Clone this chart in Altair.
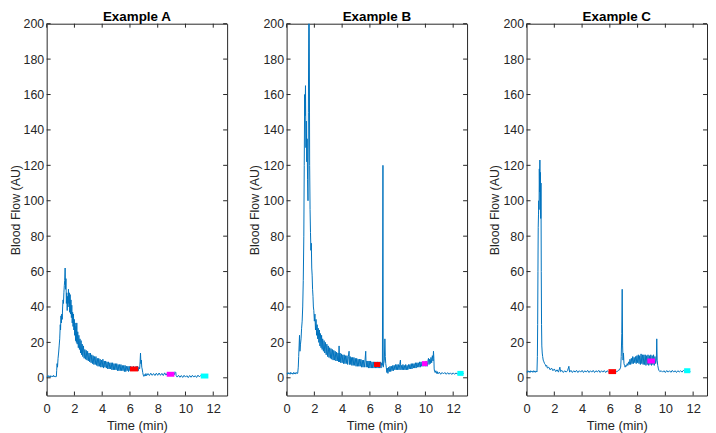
import altair as alt
import pandas as pd

X_TICKS = [0, 2, 4, 6, 8, 10, 12]
Y_TICKS = [0, 20, 40, 60, 80, 100, 120, 140, 160, 180, 200]
TITLES = ["Example A", "Example B", "Example C"]

# ---------------- Example A ----------------
t_a = [0.00, 0.05, 0.10, 0.15, 0.20, 0.25, 0.30, 0.35, 0.40, 0.45, 0.50, 0.55, 0.60, 0.65, 0.70,
       0.72, 0.75, 0.78, 0.82, 0.86, 0.90, 0.94, 0.98, 1.00, 1.03, 1.06, 1.09, 1.12, 1.15, 1.18,
       1.21, 1.24, 1.27, 1.30, 1.33, 1.36, 1.39, 1.42, 1.45, 1.48, 1.51, 1.54, 1.57, 1.60, 1.63,
       1.66, 1.69, 1.72, 1.75, 1.78, 1.81, 1.84, 1.87, 1.90, 1.93, 1.96, 1.99, 2.02, 2.05, 2.08,
       2.11, 2.14, 2.17, 2.20, 2.24, 2.28, 2.32, 2.36, 2.40, 2.44, 2.48, 2.52, 2.56, 2.60, 2.65,
       2.70, 2.75, 2.80, 2.85, 2.90, 2.95, 3.00, 3.05, 3.10, 3.15, 3.20, 3.25, 3.30, 3.35, 3.40,
       3.45, 3.50, 3.55, 3.60, 3.65, 3.70, 3.75, 3.80, 3.85, 3.90, 3.95, 4.00, 4.05, 4.10, 4.15,
       4.20, 4.25, 4.30, 4.35, 4.40, 4.45, 4.50, 4.55, 4.60, 4.65, 4.70, 4.75, 4.80, 4.85, 4.90,
       4.95, 5.00, 5.05, 5.10, 5.15, 5.20, 5.25, 5.30, 5.35, 5.40, 5.45, 5.50, 5.55, 5.60, 5.65,
       5.70, 5.75, 5.80, 5.85, 5.90, 5.95, 6.00, 6.05, 6.10, 6.15, 6.20, 6.25, 6.30, 6.35, 6.40,
       6.45, 6.50, 6.55, 6.60, 6.65, 6.70, 6.73, 6.76, 6.79, 6.82, 6.85, 6.88, 6.92, 6.96, 7.00,
       7.05, 7.10, 7.15, 7.20, 7.30, 7.40, 7.50, 7.60, 7.70, 7.80, 7.90, 8.00, 8.10, 8.20, 8.30,
       8.40, 8.50, 8.60, 8.70, 8.80, 8.90, 9.00, 9.10, 9.20, 9.25, 9.30, 9.33, 9.40, 9.50, 9.60,
       9.70, 9.80, 9.90, 10.0, 10.1, 10.2, 10.3, 10.4, 10.5, 10.6, 10.7, 10.8, 10.9, 11.0, 11.1,
       11.2, 11.3, 11.4, 11.5, 11.6]
v_a = [1.0, 0.4, 1.3, 0.6, 1.1, 0.3, 1.2, 0.7, 1.0, 0.5, 1.4, 0.6, 1.0, 0.4, 0.8,
       4, 8, 6, 11, 14, 18, 22, 30, 27, 35, 31, 36, 33, 40, 44,
       42, 48, 52, 55, 62, 50, 56, 42, 48, 38, 46, 40, 50, 42, 48,
       37, 47, 36, 44, 34, 41, 31, 37, 29, 36, 27, 33, 24, 31, 21,
       29, 20, 31, 19, 26, 17, 24, 16, 22, 14, 21, 13, 19, 12, 18,
       11, 16, 10.5, 15.5, 10, 15, 9.5, 14, 9, 14, 8.5, 13, 8, 12.5, 7.5,
       12, 7.5, 12, 7, 11, 6.5, 11, 6.5, 10.5, 6, 10, 6, 10.5, 5.5, 9.5,
       6, 9.5, 5.5, 9, 5, 9, 5, 8.5, 5, 8.5, 4.5, 8.5, 4.5, 8, 4.5,
       8, 4.5, 8, 4, 7.5, 4, 7.5, 4, 7.5, 4, 7, 4, 7, 3.5, 7,
       3.5, 6.5, 4, 6.5, 3.5, 6.5, 4, 6.5, 4, 6, 4, 6.5, 4, 6, 4,
       6.5, 4, 6.5, 4, 6, 5, 9, 14, 8, 10, 6, 5, 3, 1.5, 0.8,
       1.8, 1.0, 2.4, 1.2, 2.4, 1.3, 2.6, 1.4, 2.4, 1.3, 2.6, 1.4, 2.7, 1.4, 2.5,
       1.3, 2.8, 1.5, 2.7, 1.6, 2.8, 1.6, 3.0, 1.8, 3.4, 3.0, 1.2, 0.4, 1.4, 0.3,
       1.3, 0.2, 1.4, 0.4, 1.2, 0.1, 1.3, 0.3, 1.4, 0.4, 1.2, 0.2, 1.5, 0.5, 1.3,
       0.3, 1.4, 0.4, 1.3, 0.8]

# ---------------- Example B ----------------
t_b = [0.00, 0.05, 0.10, 0.15, 0.20, 0.25, 0.30, 0.35, 0.40, 0.45, 0.50, 0.55, 0.60, 0.65, 0.70,
       0.75, 0.80, 0.84, 0.87, 0.90, 0.93, 0.96, 1.00, 1.04, 1.08, 1.12, 1.16, 1.20, 1.24, 1.27,
       1.30, 1.33, 1.36, 1.39, 1.42, 1.45, 1.48, 1.51, 1.54, 1.57, 1.60, 1.63, 1.66, 1.69, 1.72,
       1.75, 1.78, 1.81, 1.84, 1.87, 1.90, 1.93, 1.96, 2.00, 2.04, 2.08, 2.12, 2.16, 2.20, 2.24,
       2.28, 2.32, 2.36, 2.40, 2.44, 2.48, 2.52, 2.56, 2.60, 2.65, 2.70, 2.75, 2.80, 2.85, 2.90,
       2.95, 3.00, 3.05, 3.10, 3.15, 3.20, 3.25, 3.30, 3.35, 3.40, 3.45, 3.50, 3.55, 3.60, 3.65,
       3.70, 3.75, 3.78, 3.81, 3.85, 3.90, 3.95, 4.00, 4.05, 4.10, 4.15, 4.20, 4.25, 4.30, 4.35,
       4.40, 4.45, 4.50, 4.53, 4.58, 4.62, 4.66, 4.70, 4.75, 4.80, 4.85, 4.90, 4.95, 5.00, 5.05,
       5.10, 5.15, 5.20, 5.25, 5.30, 5.35, 5.40, 5.45, 5.50, 5.55, 5.60, 5.65, 5.70, 5.73, 5.78,
       5.82, 5.86, 5.90, 5.95, 6.00, 6.05, 6.10, 6.15, 6.20, 6.25, 6.30, 6.35, 6.40, 6.45, 6.50,
       6.55, 6.60, 6.65, 6.70, 6.75, 6.80, 6.85, 6.90, 6.94, 6.96, 7.00, 7.04, 7.08, 7.11, 7.14,
       7.18, 7.22, 7.26, 7.30, 7.35, 7.40, 7.45, 7.50, 7.55, 7.60, 7.65, 7.70, 7.75, 7.80, 7.85,
       7.90, 7.95, 8.00, 8.05, 8.10, 8.15, 8.20, 8.23, 8.28, 8.33, 8.38, 8.43, 8.48, 8.53, 8.58,
       8.63, 8.68, 8.73, 8.78, 8.83, 8.88, 8.93, 8.98, 9.03, 9.08, 9.13, 9.18, 9.23, 9.28, 9.33,
       9.38, 9.43, 9.48, 9.53, 9.58, 9.63, 9.68, 9.73, 9.78, 9.83, 9.90, 9.98, 10.05, 10.12, 10.18,
       10.22, 10.26, 10.30, 10.35, 10.40, 10.45, 10.50, 10.55, 10.58, 10.61, 10.63, 10.66, 10.70, 10.75, 10.80,
       10.85, 10.90, 11.00, 11.10, 11.20, 11.30, 11.40, 11.50, 11.60, 11.70, 11.80, 11.90, 12.00, 12.10, 12.20,
       12.30, 12.40, 12.50, 12.60, 12.70, 12.75]
v_b = [2.5, 2.0, 3.0, 2.2, 2.8, 2.0, 3.1, 2.3, 2.7, 2.0, 3.0, 2.2, 2.9, 2.1, 3.0,
       2.4, 2.6, 6, 12, 18, 24, 15, 19, 22, 28, 32, 40, 55, 80, 120,
       160, 148, 165, 130, 145, 122, 135, 112, 100, 150, 215, 210, 120, 95, 82,
       72, 76, 62, 58, 50, 46, 40, 38, 32, 36, 27, 33, 24, 30, 22,
       28, 20, 27, 18, 25, 17, 24, 16, 22, 15, 21, 14, 20, 13, 19,
       12, 18, 11.5, 17, 11, 16.5, 10.5, 16, 10, 15.5, 10, 15, 9.5, 14.5, 9.5,
       14, 9, 18, 9, 14, 8.5, 13.5, 8.5, 13, 8, 13, 8, 12.5, 8, 12.5,
       7.5, 12, 15, 7.5, 12, 7.5, 11.5, 7, 11.5, 7, 11.5, 7, 11, 6.5, 11,
       6.5, 10.5, 6.5, 10.5, 6.5, 10.5, 6, 10, 6, 10, 6, 10, 15, 6, 9.5,
       6, 9.5, 5.5, 9.5, 5.5, 9.5, 5.5, 9, 5.5, 9, 5.5, 9, 5.5, 9, 5.5,
       9, 5.5, 9, 5.5, 9, 5.5, 8.5, 7, 120, 6, 8, 10, 22, 12, 8,
       6, 3, 5.5, 2.5, 6, 3.5, 6.5, 3.5, 6.5, 4, 7, 4, 7, 4.5, 7.5,
       4.5, 7.5, 4.5, 7.5, 4.5, 7.5, 10, 4.5, 7, 4.5, 7.5, 4.5, 7, 4.5, 7.5,
       4.5, 7, 4.5, 7.5, 5, 7.5, 5, 8, 5, 8, 5.5, 8, 5.5, 8.5, 5.5,
       8.5, 6, 8.5, 6, 9, 6, 9, 6.5, 9, 6.5, 9, 6.5, 9.5, 6.5, 9.5,
       11, 7.5, 10.5, 8, 11.5, 8.5, 12.5, 9.5, 15, 11, 5, 3.5, 3, 4, 2.5,
       3.5, 2.2, 3.2, 2.0, 3.0, 2.2, 3.0, 2.0, 2.9, 2.0, 2.8, 1.9, 2.8, 2.0, 2.7,
       2.2, 2.8, 2.1, 2.7, 2.3, 2.5]

# ---------------- Example C ----------------
t_c = [0.00, 0.05, 0.10, 0.15, 0.20, 0.25, 0.30, 0.35, 0.40, 0.45, 0.50, 0.55, 0.60, 0.65, 0.70,
       0.75, 0.78, 0.80, 0.82, 0.84, 0.86, 0.88, 0.90, 0.92, 0.94, 0.96, 0.98, 1.00, 1.02, 1.04,
       1.06, 1.08, 1.10, 1.13, 1.16, 1.20, 1.25, 1.30, 1.35, 1.40, 1.45, 1.50, 1.60, 1.70, 1.80,
       1.90, 2.00, 2.10, 2.20, 2.30, 2.40, 2.45, 2.55, 2.65, 2.75, 2.85, 2.95, 3.05, 3.10, 3.20,
       3.30, 3.40, 3.50, 3.60, 3.70, 3.80, 3.90, 4.00, 4.10, 4.20, 4.30, 4.40, 4.50, 4.60, 4.70,
       4.80, 4.90, 5.00, 5.10, 5.20, 5.30, 5.40, 5.50, 5.60, 5.70, 5.80, 5.90, 6.00, 6.10, 6.20,
       6.30, 6.40, 6.50, 6.60, 6.70, 6.78, 6.82, 6.86, 6.89, 6.92, 6.95, 6.98, 7.02, 7.06, 7.10,
       7.15, 7.20, 7.25, 7.30, 7.35, 7.40, 7.45, 7.50, 7.55, 7.60, 7.65, 7.70, 7.75, 7.80, 7.85,
       7.90, 7.95, 8.00, 8.05, 8.10, 8.15, 8.20, 8.25, 8.30, 8.35, 8.40, 8.45, 8.50, 8.55, 8.60,
       8.65, 8.70, 8.75, 8.80, 8.85, 8.90, 8.95, 9.00, 9.05, 9.10, 9.15, 9.20, 9.25, 9.30, 9.35,
       9.38, 9.41, 9.45, 9.50, 9.55, 9.60, 9.70, 9.80, 9.90, 10.0, 10.1, 10.2, 10.3, 10.4, 10.5,
       10.6, 10.7, 10.8, 10.9, 11.0, 11.1, 11.2, 11.3, 11.4, 11.5, 11.6, 11.7, 11.8]
v_c = [3.5, 3.0, 4.0, 3.2, 3.8, 3.0, 4.0, 3.3, 3.8, 3.1, 4.0, 3.2, 3.9, 3.1, 3.8,
       3.3, 12, 30, 60, 85, 92, 100, 95, 118, 105, 123, 100, 116, 90, 110,
       60, 30, 18, 14, 12, 10, 9, 8, 7.5, 6.5, 7, 5.5, 6, 4.5, 5.5,
       4, 5, 3.5, 4.5, 3.2, 6, 3.5, 4.2, 3.0, 4.0, 3.2, 4.0, 6.5, 3.2, 4.2,
       3.0, 4.0, 3.2, 4.2, 3.0, 4.0, 3.2, 4.2, 3.0, 4.0, 3.2, 4.2, 3.0, 4.0, 3.2,
       4.2, 3.0, 4.0, 3.3, 4.2, 3.0, 4.0, 3.2, 4.1, 3.0, 4.0, 3.3, 4.0, 3.2, 4.0,
       3.2, 4.0, 3.3, 4.2, 4.5, 6, 12, 25, 50, 18, 10, 14, 8, 7, 6,
       7, 6.5, 8, 7, 9, 7.5, 10.5, 7.5, 11, 8, 12, 8, 11.5, 8.5, 12,
       8, 12.5, 8.5, 13, 8, 12.5, 7.5, 13.5, 8, 13, 7.5, 13, 7.5, 13, 7,
       12.5, 7.5, 13, 7, 12.5, 7.5, 13, 7, 12.5, 7.5, 13, 7, 12, 8, 10,
       22, 10, 7, 5, 4, 3.5, 4.0, 3.2, 4.0, 3.0, 4.1, 3.2, 4.0, 3.1, 4.2,
       3.2, 4.0, 3.0, 4.0, 3.3, 4.0, 3.2, 4.2, 3.5, 4.0, 3.5, 4.0, 3.6]

# Highlighted analysis windows: start, end and level per panel (red, magenta, cyan)
SEG_COLORS = ["#FF0000", "#FF00FF", "#00FFFF"]
seg_a_start = [6.0, 8.65, 11.1]
seg_a_end = [6.6, 9.2, 11.65]
seg_a_level = [5, 2, 1]
seg_b_start = [6.3, 9.75, 12.3]
seg_b_end = [6.75, 10.15, 12.75]
seg_b_level = [7.5, 8, 2.5]
seg_c_start = [5.9, 8.7, 11.35]
seg_c_end = [6.45, 9.25, 11.8]
seg_c_level = [3.5, 9.5, 4]

W, H = 182, 375
LINE_COLOR = "#0072BD"
FRAME = "#262626"
FONT = "Liberation Sans"

x_scale = alt.Scale(domain=[0, 13], nice=False, zero=False)
y_scale = alt.Scale(domain=[-10, 200], nice=False, zero=False)

x_axis = alt.Axis(values=X_TICKS, title="Time (min)", labelOverlap=False,
                  labelFlush=False, labelFontSize=13, titleFontSize=13,
                  labelPadding=7, titlePadding=4)
y_axis = alt.Axis(values=Y_TICKS, title="Blood Flow (AU)", labelOverlap=False,
                  labelFlush=False, labelFontSize=12.5, titleFontSize=12.5,
                  labelPadding=3, titlePadding=1)


def panel(title, t, v, s0, s1, lev):
    df = pd.DataFrame({"t": t, "v": v})
    seg = pd.DataFrame({"t": s0, "t2": s1, "v": lev, "c": SEG_COLORS})
    xt = pd.DataFrame({"t": X_TICKS})
    yt = pd.DataFrame({"v": Y_TICKS})

    line = alt.Chart(df).mark_line(color=LINE_COLOR, strokeWidth=1, clip=True).encode(
        x=alt.X("t:Q", scale=x_scale, axis=x_axis),
        y=alt.Y("v:Q", scale=y_scale, axis=y_axis),
    )
    segs = alt.Chart(seg).mark_rule(strokeWidth=5).encode(
        x=alt.X("t:Q", scale=x_scale, axis=x_axis), x2="t2:Q",
        y=alt.Y("v:Q", scale=y_scale, axis=y_axis),
        color=alt.Color("c:N", scale=None),
    )
    tl = alt.Chart(yt).mark_rule(color=FRAME, strokeWidth=1).encode(
        y=alt.Y("v:Q", scale=y_scale, axis=y_axis), x=alt.value(0), x2=alt.value(4))
    tr = alt.Chart(yt).mark_rule(color=FRAME, strokeWidth=1).encode(
        y=alt.Y("v:Q", scale=y_scale, axis=y_axis), x=alt.value(W), x2=alt.value(W - 4))
    tb = alt.Chart(xt).mark_rule(color=FRAME, strokeWidth=1).encode(
        x=alt.X("t:Q", scale=x_scale, axis=x_axis), y=alt.value(H), y2=alt.value(H - 4))
    tt = alt.Chart(xt).mark_rule(color=FRAME, strokeWidth=1).encode(
        x=alt.X("t:Q", scale=x_scale, axis=x_axis), y=alt.value(0), y2=alt.value(4))
    return alt.layer(line, segs, tl, tr, tb, tt).properties(
        width=W, height=H, title=alt.TitleParams(title))


chart = alt.hconcat(
    panel(TITLES[0], t_a, v_a, seg_a_start, seg_a_end, seg_a_level),
    panel(TITLES[1], t_b, v_b, seg_b_start, seg_b_end, seg_b_level),
    panel(TITLES[2], t_c, v_c, seg_c_start, seg_c_end, seg_c_level),
    spacing=20,
).properties(
    padding={"left": 0, "top": 0, "right": 0, "bottom": 0}
).configure_view(
    stroke=FRAME, strokeWidth=1
).configure_axis(
    domain=False, ticks=False, tickSize=0, grid=False,
    labelFont=FONT, labelColor=FRAME,
    titleFont=FONT, titleFontWeight="normal", titleColor=FRAME,
).configure_title(
    font=FONT, fontSize=13.5, fontWeight="bold", color="#000000", offset=-6, anchor="middle"
)

chart.save("out.html", embed_options={"renderer": "svg", "actions": False})
